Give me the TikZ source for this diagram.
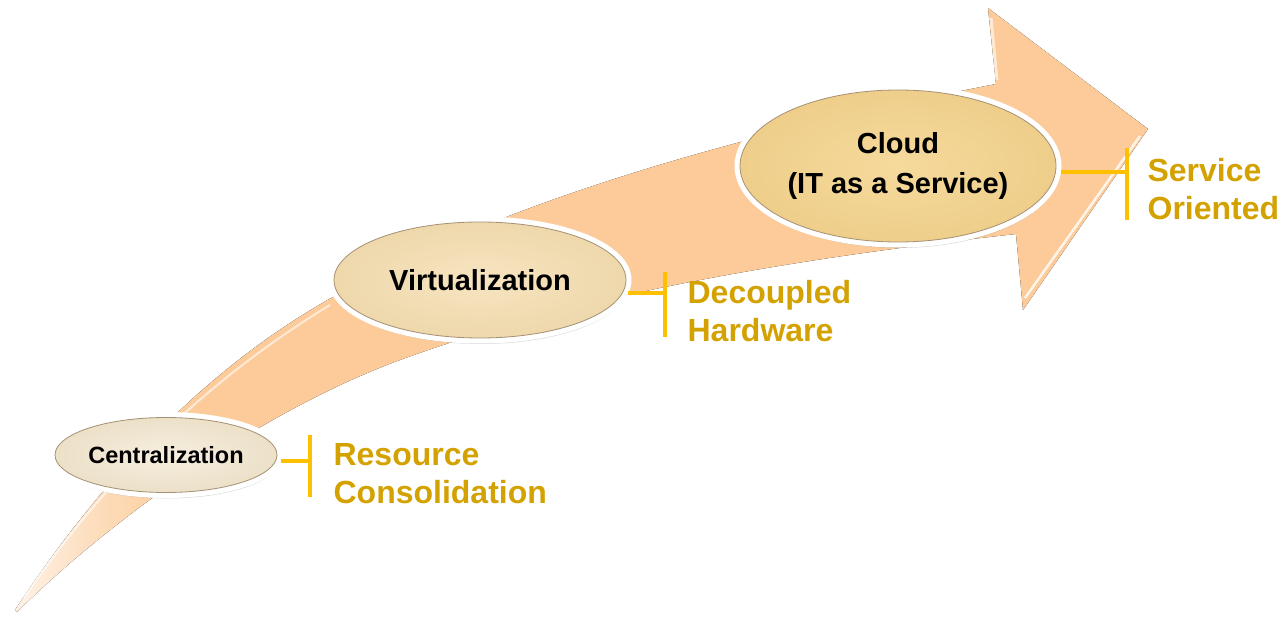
\documentclass[tikz,border=0pt]{standalone}
\usepackage{fontspec}
\setmainfont{Liberation Sans}
\usepackage{tikz}
\usetikzlibrary{positioning,shapes.geometric,shadows}

\definecolor{peach}{RGB}{252,203,153}
\colorlet{peachfaint}{peach!25!white}
\colorlet{peachlight}{peach!70!white}
\definecolor{gold}{RGB}{255,192,0}
\definecolor{golddark}{RGB}{212,162,0}
\definecolor{rimbrown}{RGB}{165,145,115}
\definecolor{cenin}{RGB}{246,238,223}
\definecolor{cenout}{RGB}{236,224,200}
\definecolor{virtin}{RGB}{247,228,192}
\definecolor{virtout}{RGB}{238,216,172}
\definecolor{cloudin}{RGB}{246,218,156}
\definecolor{cloudout}{RGB}{238,206,138}
\pgfdeclarehorizontalshading{arrowshade}{100bp}{color(0bp)=(white); color(25bp)=(peachfaint); color(29bp)=(peachlight); color(33bp)=(peach); color(100bp)=(peach)}

\begin{document}
\begin{tikzpicture}[x=1pt,y=-1pt,node distance=100pt,on grid,semithick]
\tikzstyle{stage} = [ellipse,draw=rimbrown,line width=0.8pt,inner sep=0pt,align=center,
  drop shadow={opacity=0.3,shadow xshift=1pt,shadow yshift=-6pt},
  preaction={draw=white,line width=11pt}]
\tikzstyle{bar} = [rectangle,fill=gold,minimum width=4pt,inner sep=0pt]
\tikzstyle{outcome} = [on grid=false,inner sep=0pt,align=left,text=golddark,
  font=\bfseries\fontsize{32}{38}\selectfont]
    \useasboundingbox (0,0) rectangle (1280,617);

    % the big arrow
    \fill[shading=arrowshade] (15,610) .. controls (97,485) and (202,370) .. (333,297)
      .. controls (525,190) and (780,126) .. (996,84) -- (988,8) -- (1148,129)
      -- (1023,310) -- (1016,234) .. controls (816,256) and (588,291) .. (400,360)
      .. controls (259,412) and (109,521) .. (17,612) -- cycle;
    \draw[white,opacity=0.6,line width=2pt] (24,598) .. controls (90,500) and (190,390) .. (330,305);
    \draw[white,opacity=0.6,line width=3pt] (991,18) -- (997,80);
    \draw[white,opacity=0.8,line width=2.5pt] (1140,136) -- (1025,298);

    \node[stage,minimum width=222pt,minimum height=75pt,inner color=cenin,outer color=cenout,
      font=\bfseries\fontsize{23.5}{28}\selectfont] (cen) at (166,455) {Centralization};
    \node[stage,minimum width=292pt,minimum height=116pt,inner color=virtin,outer color=virtout,
      font=\bfseries\fontsize{29}{35}\selectfont] (virt) [above right=175pt and 314pt of cen] {Virtualization};
    \node[stage,minimum width=316pt,minimum height=152pt,inner color=cloudin,outer color=cloudout,
      font=\bfseries\fontsize{29}{40}\selectfont] (cloud) [above right=114pt and 418pt of virt] {Cloud\\(IT as a Service)};

    \node[bar,minimum height=62pt] (cenbar) [below right=11pt and 144pt of cen] {};
    \node[bar,minimum height=65pt] (virtbar) [below right=25pt and 185pt of virt] {};
    \node[bar,minimum height=72pt] (cloudbar) [below right=18pt and 229pt of cloud] {};

    \node[outcome] (resrc) [right=21pt of cenbar,yshift=-8pt] {Resource\\Consolidation};
    \node[outcome] (dechw) [right=20pt of virtbar,yshift=-6pt] {Decoupled\\Hardware};
    \node[outcome] (svcor) [right=18pt of cloudbar,yshift=-5pt] {Service\\Oriented};

    \tikzset{link/.style={draw=gold,line width=4pt}}
    \draw[link] ([xshift=5pt]cen.-3) -- (cen.-3 -| cenbar.center);
    \draw[link] ([xshift=5pt]virt.-5) -- (virt.-5 -| virtbar.center);
    \draw[link] ([xshift=5pt]cloud.-2) -- (cloud.-2 -| cloudbar.center);
\end{tikzpicture}
\end{document}
